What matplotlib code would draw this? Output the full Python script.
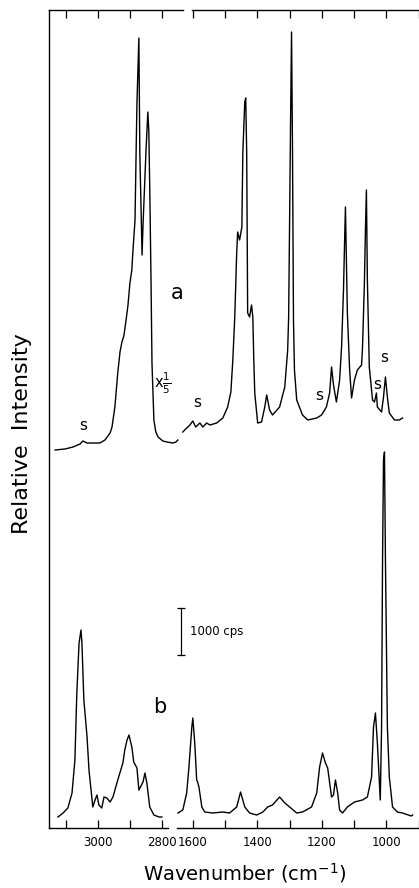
"""
Raman spectra, panel a (top, C-H region scaled x1/5) and panel b (bottom),
drawn on a broken wavenumber axis.
"""
import numpy as np
from matplotlib import pyplot as plt

# spectrum a, C-H stretch region (wavenumber cm-1, relative intensity)
a_hi_wn = [3134, 3103, 3078, 3056, 3047, 3034, 3016, 2994, 2978, 2962,
           2956, 2947, 2938, 2931, 2925, 2919, 2912, 2906, 2900, 2894,
           2891, 2884, 2881, 2878, 2872, 2869, 2862, 2859, 2850, 2844,
           2841, 2838, 2834, 2831, 2825, 2819, 2812, 2797, 2784, 2766,
           2756, 2750]
a_hi_int = [378, 379, 381, 384, 387, 385, 385, 385, 388, 395,
            401, 421, 455, 476, 486, 492, 508, 523, 545, 558,
            575, 608, 668, 725, 790, 675, 573, 603, 675, 716,
            698, 641, 548, 465, 408, 396, 391, 387, 386, 385,
            386, 388]

# spectrum a, fingerprint region
a_lo_wn = [1631, 1619, 1609, 1600, 1591, 1578, 1569, 1557, 1547, 1526,
           1507, 1492, 1482, 1476, 1470, 1464, 1461, 1455, 1448, 1445,
           1439, 1436, 1433, 1430, 1424, 1418, 1414, 1411, 1408, 1399,
           1387, 1377, 1371, 1362, 1353, 1331, 1315, 1306, 1303, 1300,
           1297, 1294, 1291, 1288, 1285, 1278, 1260, 1244, 1216, 1201,
           1186, 1176, 1170, 1164, 1155, 1145, 1139, 1133, 1130, 1127,
           1124, 1121, 1114, 1108, 1099, 1090, 1077, 1074, 1068, 1065,
           1062, 1059, 1053, 1043, 1037, 1031, 1028, 1015, 1009, 1003,
           997, 991, 975, 960, 950]
a_lo_int = [396, 400, 403, 407, 401, 405, 401, 405, 403, 405,
            410, 421, 436, 468, 511, 575, 596, 588, 601, 675,
            726, 730, 675, 515, 511, 523, 511, 468, 435, 405,
            406, 421, 433, 418, 413, 421, 441, 478, 511, 608,
            708, 796, 675, 508, 458, 428, 413, 408, 410, 413,
            421, 435, 461, 443, 426, 448, 481, 538, 581, 621,
            568, 515, 458, 430, 448, 458, 463, 481, 548, 598,
            638, 548, 461, 428, 426, 435, 421, 416, 431, 451,
            431, 415, 408, 408, 410]

# spectrum b, C-H stretch region
b_hi_wn = [3125, 3109, 3094, 3081, 3072, 3066, 3059, 3053, 3050, 3044,
           3034, 3028, 3016, 3009, 3003, 2997, 2988, 2981, 2972, 2962,
           2953, 2938, 2922, 2916, 2909, 2903, 2894, 2888, 2878, 2872,
           2859, 2853, 2847, 2838, 2825, 2809, 2800]
b_hi_int = [11, 15, 20, 35, 68, 135, 185, 198, 185, 128,
            91, 58, 21, 28, 33, 23, 20, 31, 30, 26,
            31, 48, 65, 78, 88, 93, 81, 66, 60, 38,
            46, 55, 45, 21, 13, 11, 11]

# spectrum b, fingerprint region
b_lo_wn = [1646, 1631, 1619, 1612, 1603, 1600, 1594, 1588, 1585, 1581,
           1572, 1563, 1538, 1507, 1486, 1464, 1452, 1439, 1424, 1402,
           1383, 1368, 1353, 1331, 1315, 1300, 1278, 1260, 1232, 1216,
           1207, 1198, 1189, 1182, 1170, 1164, 1158, 1151, 1145, 1136,
           1121, 1099, 1074, 1059, 1046, 1040, 1034, 1028, 1019, 1015,
           1012, 1009, 1006, 1003, 997, 991, 981, 966, 950, 923,
           919]
b_lo_int = [15, 18, 35, 61, 101, 110, 85, 48, 46, 41,
            21, 16, 15, 16, 15, 21, 36, 21, 15, 13,
            16, 21, 23, 31, 25, 21, 15, 16, 21, 35,
            61, 75, 65, 60, 31, 33, 48, 35, 18, 15,
            21, 26, 28, 31, 51, 101, 115, 85, 28, 101,
            268, 368, 376, 268, 101, 51, 21, 16, 15, 12,
            13]

# solvent bands marked "s"
s_hi = [(3047, 395)]
s_lo = [(1585, 418), (1207, 425), (1028, 436), (1006, 463)]

hi_ticks = [3100, 3000, 2900, 2800]
hi_labels = ["", "3000", "", "2800"]
lo_ticks = [1600, 1500, 1400, 1300, 1200, 1100, 1000, 900]
lo_labels = ["1600", "", "1400", "", "1200", "", "1000", ""]

plt.rcParams['font.family'] = ['DejaVu Sans']
fig = plt.figure(figsize=(4.19, 8.88), dpi=100)
y0, h = 60 / 888, 818 / 888
ax1 = fig.add_axes([49 / 419, y0, 134 / 419, h])
ax2 = fig.add_axes([177 / 419, y0, 242 / 419, h])

for ax in (ax1, ax2):
    ax.patch.set_alpha(0)
    ax.set_ylim(0, 818)
    ax.set_yticks([])
    ax.spines['right'].set_visible(False)
    ax.tick_params(axis='x', which='both', direction='in', length=6,
                   width=0.9, top=True, labelsize=8.5, pad=6)
    for sp in ax.spines.values():
        sp.set_linewidth(1.0)

ax1.set_xlim(3153, 2734)
ax1.spines['bottom'].set_bounds(3153, 2781)
ax1.set_xticks(hi_ticks, hi_labels)
ax1.plot(a_hi_wn, a_hi_int, color='k', lw=1.0)
ax1.plot(b_hi_wn, b_hi_int, color='k', lw=1.0)

ax2.set_xlim(1649, 899)
ax2.spines['left'].set_visible(False)
ax2.spines['top'].set_bounds(1603, 899)
ax2.set_xticks(lo_ticks, lo_labels)
ax2.plot(a_lo_wn, a_lo_int, color='k', lw=1.0)
ax2.plot(b_lo_wn, b_lo_int, color='k', lw=1.0)

for wn, y in s_hi:
    ax1.text(wn, y, "s", ha='center', va='bottom', fontsize=11)
for wn, y in s_lo:
    ax2.text(wn, y, "s", ha='center', va='bottom', fontsize=11)

ax1.text(2753, 535, "a", ha='center', va='center', fontsize=15)
ax1.text(2806, 121, "b", ha='center', va='center', fontsize=15)
ax1.text(2797, 445, r"x$\frac{1}{5}$", ha='center', va='center', fontsize=10.5)

# 1000 cps scale bar
ax2.plot([1637, 1637], [173, 220], color='k', lw=0.9, marker='_', ms=6,
         mew=0.9, clip_on=False)
ax2.text(1610, 196, "1000 cps", ha='left', va='center', fontsize=8.5)

fig.text(22 / 419, 1 - 434 / 888, "Relative  Intensity", rotation=90,
         ha='center', va='center', fontsize=16)
fig.text(245 / 419, 1 - 873 / 888, r"Wavenumber (cm$^{-1}$)",
         ha='center', va='center', fontsize=14)

fig.savefig("out.png", dpi=100)
